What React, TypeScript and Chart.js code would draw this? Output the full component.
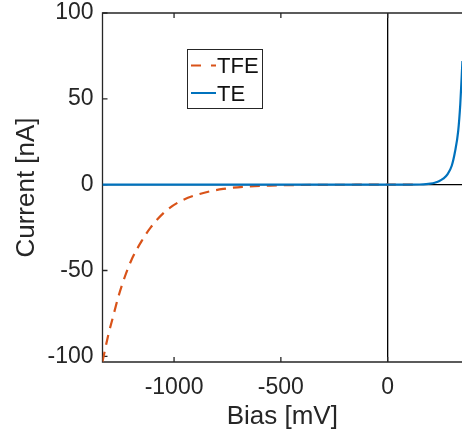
import React, { useEffect, useRef } from 'react';
import { Chart, registerables } from 'chart.js';

Chart.register(...registerables);

// ---- data ----
const biasTE = [-1335, -1000, -500, 0, 100, 150, 180, 200, 220, 240, 260, 280, 300, 315, 330, 340, 350];
const currentTE = [0, 0, 0, 0, 0.02, 0.1, 0.3, 0.6, 1.1, 2.0, 3.5, 6, 11, 19, 31, 47, 72];

const biasTFE = [-1335, -1305, -1290, -1260, -1230, -1200, -1150, -1110, -1040, -965, -880, -770, -660, -550, -450, -350, -250, -150, 0, 150];
const currentTFE = [-103, -86, -79, -65, -53.5, -44, -32.5, -25, -15.5, -9.3, -5.4, -2.5, -1.1, -0.5, -0.25, -0.12, -0.06, -0.03, 0, 0];

const xTicks = [-1000, -500, 0];
const yTicks = [-100, -50, 0, 50, 100];
const seriesNames = ['TFE', 'TE'];

const X_MIN = -1335;
const X_MAX = 348;
const Y_MIN = -103.3;
const Y_MAX = 100;

const ORANGE = '#D95319';
const BLUE = '#0072BD';
const AXIS = '#262626';
const FONT = '"Liberation Sans", Arial, Helvetica, sans-serif';

const framePlugin = {
  id: 'matlabFrame',
  beforeDatasetsDraw(chart: any) {
    const { ctx, chartArea: a, scales } = chart;
    const x = scales.x;
    const y = scales.y;
    ctx.save();
    // zero lines
    ctx.strokeStyle = '#000';
    ctx.lineWidth = 1.3;
    const x0 = x.getPixelForValue(0);
    const y0 = y.getPixelForValue(0);
    ctx.beginPath();
    ctx.moveTo(x0, a.top);
    ctx.lineTo(x0, a.bottom);
    ctx.moveTo(a.left, y0);
    ctx.lineTo(a.right, y0);
    ctx.stroke();
    // box
    ctx.strokeStyle = AXIS;
    ctx.lineWidth = 1.3;
    ctx.beginPath();
    ctx.moveTo(a.right + 2, a.top);
    ctx.lineTo(a.left, a.top);
    ctx.lineTo(a.left, a.bottom);
    ctx.lineTo(a.right + 2, a.bottom);
    ctx.stroke();
    // inward ticks
    const tl = 5;
    ctx.beginPath();
    xTicks.forEach((v) => {
      const px = x.getPixelForValue(v);
      ctx.moveTo(px, a.bottom);
      ctx.lineTo(px, a.bottom - tl);
      ctx.moveTo(px, a.top);
      ctx.lineTo(px, a.top + tl);
    });
    yTicks.forEach((v) => {
      const py = y.getPixelForValue(v);
      ctx.moveTo(a.left, py);
      ctx.lineTo(a.left + tl, py);
    });
    ctx.stroke();
    ctx.restore();
  },
  afterDraw(chart: any) {
    const { ctx } = chart;
    ctx.save();
    // legend box
    const bx = 187, by = 49, bw = 75, bh = 59;
    ctx.fillStyle = '#fff';
    ctx.fillRect(bx, by, bw, bh);
    ctx.strokeStyle = AXIS;
    ctx.lineWidth = 1;
    ctx.strokeRect(bx + 0.5, by + 0.5, bw, bh);
    const rows = [
      { y: 65.5, color: ORANGE, dash: [10, 10] },
      { y: 93, color: BLUE, dash: [] as number[] },
    ];
    rows.forEach((r, i) => {
      ctx.strokeStyle = r.color;
      ctx.lineWidth = 2;
      ctx.setLineDash(r.dash);
      ctx.beginPath();
      ctx.moveTo(191, r.y);
      ctx.lineTo(216, r.y);
      ctx.stroke();
      ctx.setLineDash([]);
      ctx.fillStyle = '#111';
      ctx.font = `22px ${FONT}`;
      ctx.textBaseline = 'middle';
      ctx.textAlign = 'left';
      ctx.fillText(seriesNames[i], 217, r.y + 1.5);
    });
    ctx.restore();
  },
};

export default function App() {
  const ref = useRef<HTMLCanvasElement | null>(null);

  useEffect(() => {
    if (!ref.current) return;
    const chart = new Chart(ref.current, {
      type: 'line',
      data: {
        datasets: [
          {
            label: seriesNames[1],
            data: biasTE.map((b, i) => ({ x: b, y: currentTE[i] })),
            borderColor: BLUE,
            borderWidth: 2.2,
            pointRadius: 0,
            cubicInterpolationMode: 'monotone',
            fill: false,
          },
          {
            label: seriesNames[0],
            data: biasTFE.map((b, i) => ({ x: b, y: currentTFE[i] })),
            borderColor: ORANGE,
            borderWidth: 2.2,
            borderDash: [10, 7],
            pointRadius: 0,
            cubicInterpolationMode: 'monotone',
            fill: false,
          },
        ],
      },
      options: {
        animation: false,
        responsive: false,
        layout: { padding: { top: 13, right: 0, left: 0, bottom: 0 } },
        plugins: {
          legend: { display: false },
          tooltip: { enabled: false },
        },
        scales: {
          x: {
            type: 'linear',
            min: X_MIN,
            max: X_MAX,
            grid: { display: false, drawTicks: false },
            border: { display: false },
            afterBuildTicks: (s: any) => {
              s.ticks = xTicks.map((v) => ({ value: v }));
            },
            afterFit: (s: any) => {
              s.height = 74;
              s.paddingLeft = 0;
              s.paddingRight = 0;
            },
            ticks: {
              callback: (v: any) => String(v),
              color: AXIS,
              padding: 12,
              maxRotation: 0,
              font: { family: FONT, size: 23 },
            },
            title: {
              display: true,
              text: 'Bias [mV]',
              color: AXIS,
              padding: { top: 0, bottom: 4 },
              font: { family: FONT, size: 26 },
            },
          },
          y: {
            type: 'linear',
            min: Y_MIN,
            max: Y_MAX,
            grid: { display: false, drawTicks: false },
            border: { display: false },
            afterBuildTicks: (s: any) => {
              s.ticks = yTicks.map((v) => ({ value: v }));
            },
            afterFit: (s: any) => {
              s.width = 102.5;
              s.paddingTop = 0;
              s.paddingBottom = 0;
            },
            ticks: {
              callback: (v: any) => String(v),
              color: AXIS,
              padding: 9,
              font: { family: FONT, size: 23 },
            },
            title: {
              display: true,
              text: 'Current [nA]',
              color: AXIS,
              padding: { top: 11, bottom: 0 },
              font: { family: FONT, size: 26 },
            },
          },
        },
      },
      plugins: [framePlugin],
    } as any);
    return () => chart.destroy();
  }, []);

  return (
    <div style={{ position: 'absolute', left: 0, top: 0, width: 462, height: 436, background: '#fff' }}>
      <canvas ref={ref} width={462} height={436} style={{ display: 'block' }} />
    </div>
  );
}
